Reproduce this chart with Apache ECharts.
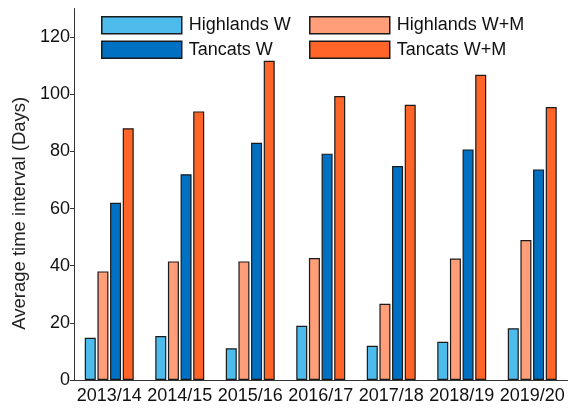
<!DOCTYPE html>
<html>
<head>
<meta charset="utf-8">
<script src="https://cdn.jsdelivr.net/npm/echarts@6/dist/echarts.min.js"></script>
<style>
  html, body { margin: 0; padding: 0; background: #fff; }
  #chart { width: 571px; height: 411px; }
</style>
</head>
<body>
<div id="chart"></div>
<script>
// seasons on the x axis
const seasons = ['2013/14', '2014/15', '2015/16', '2016/17', '2017/18', '2018/19', '2019/20']
// average time interval in days
const highlandsW = [14.8, 15.4, 11.1, 19.0, 12.0, 13.4, 18.1]
const highlandsWM = [38.0, 41.5, 41.5, 42.7, 26.7, 42.5, 49.0]
const tancatsW = [62.0, 72.0, 83.0, 79.2, 74.9, 80.7, 73.7]
const tancatsWM = [88.1, 94.0, 111.7, 99.4, 96.3, 106.8, 95.5]
const yTicks = [0, 20, 40, 60, 80, 100, 120]

const font = '"Liberation Sans", Arial, sans-serif'
const edge = '#1a1a1a'

function bar(name, data, color) {
  return {
    name: name,
    type: 'bar',
    data: data,
    barWidth: 11,
    barGap: '15%',
    itemStyle: { color: color, borderColor: edge, borderWidth: 1.2 }
  }
}

const chart = echarts.init(document.getElementById('chart'))
const legendBase = {
  orient: 'vertical',
  top: 16,
  padding: 0,
  itemWidth: 80,
  itemHeight: 17,
  itemGap: 6,
  icon: 'rect',
  itemStyle: { borderColor: edge, borderWidth: 1.5 },
  textStyle: { fontFamily: font, fontSize: 18, color: '#111', padding: [0, 0, 0, 2] }
}

chart.setOption({
  animation: false,
  textStyle: { fontFamily: font },
  legend: [
    Object.assign({}, legendBase, { left: 101, data: ['Highlands W', 'Tancats W'] }),
    Object.assign({}, legendBase, { left: 309, data: ['Highlands W+M', 'Tancats W+M'] })
  ],
  grid: { left: 74, right: 3.5, top: 8.5, bottom: 31 },
  xAxis: {
    type: 'category',
    data: seasons,
    axisLine: { lineStyle: { color: '#333', width: 1 } },
    axisTick: { show: false },
    axisLabel: { fontFamily: font, fontSize: 18, color: '#111', margin: 7, interval: 0 }
  },
  yAxis: {
    type: 'value',
    min: 0,
    max: 130,
    interval: 20,
    name: 'Average time interval (Days)',
    nameLocation: 'middle',
    nameGap: 38,
    nameTextStyle: { fontFamily: font, fontSize: 18.5, color: '#222', padding: [0, 38, 0, 0] },
    axisLine: { show: true, lineStyle: { color: '#333', width: 1 } },
    axisTick: { show: true, length: 4, customValues: yTicks, lineStyle: { color: '#333' } },
    axisLabel: { fontFamily: font, fontSize: 18, color: '#111', margin: 4, customValues: yTicks },
    splitLine: { show: false }
  },
  series: [
    bar('Highlands W', highlandsW, '#4dbbeb'),
    bar('Highlands W+M', highlandsWM, '#ff9e78'),
    bar('Tancats W', tancatsW, '#0070c3'),
    bar('Tancats W+M', tancatsWM, '#ff6528')
  ]
})
</script>
</body>
</html>
